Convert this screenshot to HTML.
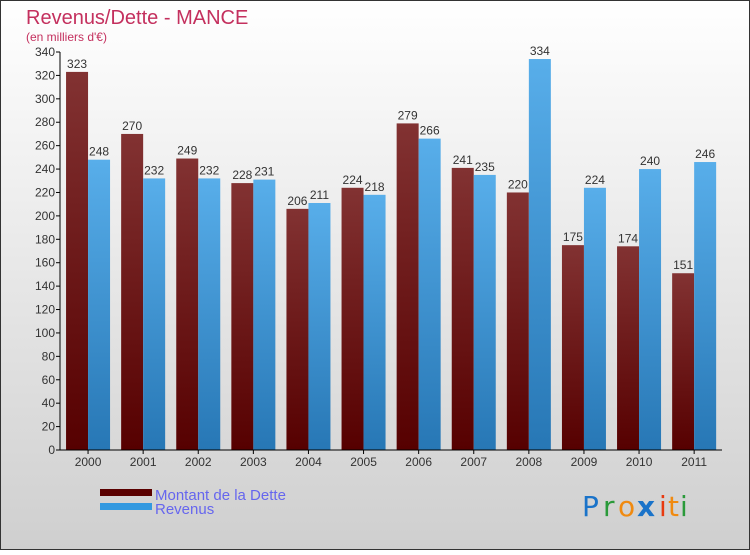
<!DOCTYPE html>
<html><head><meta charset="utf-8"><style>
body{margin:0}
#c{width:750px;height:550px;position:relative;font-family:"Liberation Sans",sans-serif}
</style></head><body>
<div id="c">
<svg width="750" height="550" xmlns="http://www.w3.org/2000/svg" id="svg">
<defs>
<linearGradient id="bg" x1="0" y1="0" x2="0" y2="1"><stop offset="0" stop-color="#ffffff"/><stop offset="1" stop-color="#cfcfcf"/></linearGradient>
<linearGradient id="gd" x1="0" y1="0" x2="0" y2="1"><stop offset="0" stop-color="#823232"/><stop offset="1" stop-color="#560000"/></linearGradient>
<linearGradient id="gr" x1="0" y1="0" x2="0" y2="1"><stop offset="0" stop-color="#58aeea"/><stop offset="1" stop-color="#2777b5"/></linearGradient>
</defs>
<rect x="0.5" y="0.5" width="749" height="549" fill="url(#bg)" stroke="#333"/>
<text x="26" y="24" font-size="20" fill="#c4305e">Revenus/Dette - MANCE</text>
<text x="26" y="41" font-size="12" fill="#c4305e">(en milliers d'€)</text>
<g id="plot"></g>
<rect x="100" y="489" width="52" height="7" fill="#5a0000"/>
<rect x="100" y="503" width="52" height="7" fill="#3399e0"/>
<text x="155" y="500" font-size="15" fill="#6666ee">Montant de la Dette</text>
<text x="155" y="514" font-size="15" fill="#6666ee">Revenus</text>
<g font-size="28" font-family="DejaVu Sans, sans-serif">
<text x="582" y="516" fill="#1a73c9">P</text><text x="603" y="516" fill="#2a9a3a">r</text><text x="618" y="516" fill="#f08a10">o</text><text x="637" y="516" fill="#1a73c9" font-weight="bold">x</text><text x="659" y="516" fill="#e83a10">i</text><text x="668" y="516" fill="#f08a10">t</text><text x="680" y="516" fill="#2a9a3a">i</text>
</g>
</svg>
</div>
<script>
const categories=["2000","2001","2002","2003","2004","2005","2006","2007","2008","2009","2010","2011"];
const dette=[323,270,249,228,206,224,279,241,220,175,174,151];
const revenus=[248,232,232,231,211,218,266,235,334,224,240,246];
const ticks=[0,20,40,60,80,100,120,140,160,180,200,220,240,260,280,300,320,340];
const NS="http://www.w3.org/2000/svg";
const g=document.getElementById('plot');
const x0=60,step=55.1,y0=450,yTop=52,maxV=340;
const y=v=>y0-(v/maxV)*(y0-yTop);
function mk(t,a){const e=document.createElementNS(NS,t);for(const k in a)e.setAttribute(k,a[k]);g.appendChild(e);return e;}
ticks.forEach(t=>{
  const l=mk('line',{x1:x0-4,x2:x0,y1:y(t),y2:y(t),stroke:'#000'});
  
  
  const tx=mk('text',{x:x0-5,y:y(t)+4,'font-size':12,'text-anchor':'end',fill:'#333'});
  tx.textContent=t;
  
  
});
categories.forEach((c,i)=>{
  const cx=x0+step*(i+0.5)+0.5;
  [[dette[i],'url(#gd)',cx-22,'bar-dette'],[revenus[i],'url(#gr)',cx,'bar-revenus']].forEach(([v,f,bx,n])=>{
    const r=mk('rect',{x:bx,y:y(v),width:22,height:y0-y(v),fill:f});
    
    
    const t=mk('text',{x:bx+11,y:y(v)-4,'font-size':12,'text-anchor':'middle',fill:'#333'});
    t.textContent=v;
    
    
  });
  const tk=mk('line',{x1:cx,x2:cx,y1:y0,y2:y0+4,stroke:'#000'});
  
  
  const xl=mk('text',{x:cx,y:y0+16,'font-size':12,'text-anchor':'middle',fill:'#333'});
  xl.textContent=c;
  
  
});
const ax=mk('line',{x1:x0,x2:x0,y1:yTop,y2:y0,stroke:'#000'});


const bx=mk('line',{x1:x0,x2:722,y1:y0,y2:y0,stroke:'#000'});


</script>
</body></html>
